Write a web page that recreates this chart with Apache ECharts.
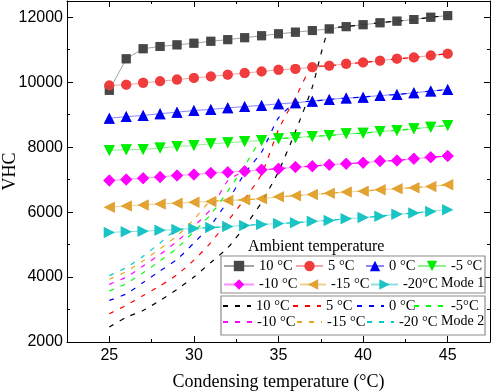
<!DOCTYPE html>
<html>
<head>
<meta charset="utf-8">
<script src="https://cdn.jsdelivr.net/npm/echarts@6/dist/echarts.min.js"></script>
<style>
  html, body { margin: 0; padding: 0; background: #fff; }
  #chart { width: 491px; height: 392px; }
</style>
</head>
<body>
<div id="chart"></div>
<script>
// condensing temperature (°C)
const condTemp = [25, 26, 27, 28, 29, 30, 31, 32, 33, 34, 35, 36, 37, 38, 39, 40, 41, 42, 43, 44, 45];

// Mode 1 VHC by ambient temperature
const m1_10  = [9750, 10720, 11030, 11100, 11150, 11200, 11260, 11310, 11370, 11430, 11490, 11540, 11590, 11640, 11710, 11770, 11830, 11880, 11930, 12000, 12050];
const m1_5   = [9900, 9920, 9980, 10030, 10080, 10130, 10175, 10230, 10280, 10330, 10380, 10410, 10460, 10505, 10565, 10605, 10660, 10720, 10760, 10820, 10875];
const m1_0   = [8890, 8940, 8975, 9030, 9075, 9130, 9160, 9210, 9250, 9285, 9335, 9365, 9415, 9470, 9510, 9540, 9590, 9620, 9675, 9725, 9775];
const m1_m5  = [7900, 7920, 7930, 7970, 8020, 8050, 8105, 8135, 8175, 8205, 8260, 8290, 8330, 8360, 8410, 8430, 8485, 8515, 8565, 8615, 8670];
const m1_m10 = [6975, 7005, 7045, 7080, 7130, 7160, 7200, 7230, 7260, 7305, 7335, 7385, 7415, 7460, 7490, 7520, 7570, 7590, 7645, 7690, 7725];
const m1_m15 = [6150, 6190, 6220, 6250, 6275, 6305, 6330, 6360, 6380, 6410, 6470, 6505, 6545, 6580, 6615, 6645, 6690, 6720, 6750, 6790, 6840];
const m1_m20 = [5375, 5395, 5410, 5440, 5465, 5495, 5525, 5555, 5590, 5620, 5645, 5675, 5715, 5745, 5795, 5830, 5875, 5930, 5970, 6020, 6075];

// Mode 2 VHC (rises, then runs along the Mode 1 curve)
const m2_10  = [2460, 2760, 2970, 3280, 3620, 4000, 4450, 4900, 5550, 6300, 7250, 8480, 9850, 11640, 11710, 11770, 11830, 11880, 11930, 12000, 12050];
const m2_5   = [2870, 3130, 3430, 3730, 4070, 4520, 5060, 5720, 6400, 7170, 8540, 9520, 10460, 10505, 10565, 10605, 10660, 10720, 10760, 10820, 10875];
const m2_0   = [3280, 3480, 3830, 4190, 4540, 5050, 5590, 6340, 7190, 7850, 8900, 9365, 9415, 9470, 9510, 9540, 9590, 9620, 9675, 9725, 9775];
const m2_m5  = [3570, 3800, 4130, 4500, 4890, 5400, 5930, 6640, 7430, 8205, 8260, 8290, 8330, 8360, 8410, 8430, 8485, 8515, 8565, 8615, 8670];
const m2_m10 = [3775, 4000, 4340, 4700, 5100, 5560, 6090, 6960, 7260, 7305, 7335, 7385, 7415, 7460, 7490, 7520, 7570, 7590, 7645, 7690, 7725];
const m2_m15 = [3930, 4170, 4500, 4870, 5270, 5770, 6330, 6360, 6380, 6410, 6470, 6505, 6545, 6580, 6615, 6645, 6690, 6720, 6750, 6790, 6840];
const m2_m20 = [4045, 4290, 4640, 5050, 5465, 5495, 5525, 5555, 5590, 5620, 5645, 5675, 5715, 5745, 5795, 5830, 5875, 5930, 5970, 6020, 6075];

// ticks
const xMajor = [25, 30, 35, 40, 45];
const xMinor = [27.5, 32.5, 37.5, 42.5];
const yMajor = [2000, 4000, 6000, 8000, 10000, 12000];
const yMinor = [3000, 5000, 7000, 9000, 11000];

const mode1 = [
  { name: 'm1_10',  label: '10 °C',  data: m1_10,  color: '#474747', line: '#a3a3a3', symbol: 'rect',     size: 9,  rotate: 0 },
  { name: 'm1_5',   label: '5 °C',   data: m1_5,   color: '#f03c3c', line: '#f5a3a3', symbol: 'circle',   size: 10, rotate: 0 },
  { name: 'm1_0',   label: '0 °C',   data: m1_0,   color: '#0000f0', line: '#8888ff', symbol: 'triangle', size: 11, rotate: 0 },
  { name: 'm1_-5',  label: '-5 °C',  data: m1_m5,  color: '#00ee00', line: '#8cf08c', symbol: 'triangle', size: 11, rotate: 180 },
  { name: 'm1_-10', label: '-10 °C', data: m1_m10, color: '#ff00ff', line: '#ff8cff', symbol: 'diamond',  size: 12, rotate: 0 },
  { name: 'm1_-15', label: '-15 °C', data: m1_m15, color: '#e2a332', line: '#f0d090', symbol: 'triangle', size: 11, rotate: 90 },
  { name: 'm1_-20', label: '-20°C',  data: m1_m20, color: '#1cc4c4', line: '#8ce0e0', symbol: 'triangle', size: 11, rotate: -90 }
];
const mode2 = [
  { name: 'm2_10',  label: '10 °C',  data: m2_10,  color: '#000000' },
  { name: 'm2_5',   label: '5 °C',   data: m2_5,   color: '#ff0000' },
  { name: 'm2_0',   label: '0 °C',   data: m2_0,   color: '#0000ff' },
  { name: 'm2_-5',  label: '-5°C',   data: m2_m5,  color: '#00ff00' },
  { name: 'm2_-10', label: '-10 °C', data: m2_m10, color: '#ff00ff' },
  { name: 'm2_-15', label: '-15 °C', data: m2_m15, color: '#e8a820' },
  { name: 'm2_-20', label: '-20 °C', data: m2_m20, color: '#00cccc' }
];

const labelOf = {};
mode1.concat(mode2).forEach(function (s) { labelOf[s.name] = s.label; });

const pairs = function (ys) { return condTemp.map(function (x, i) { return [x, ys[i]]; }); };

const series = [];
mode1.forEach(function (s) {
  series.push({
    name: s.name, type: 'line', z: 1, data: pairs(s.data),
    symbol: s.symbol, symbolSize: s.size, symbolRotate: s.rotate,
    itemStyle: { color: s.color },
    lineStyle: { color: s.line, width: 1 },
    emphasis: { disabled: true }
  });
});
mode2.forEach(function (s) {
  series.push({
    name: s.name, type: 'line', z: 2, data: pairs(s.data),
    symbol: 'none', smooth: 0.2,
    itemStyle: { color: s.color },
    lineStyle: { color: s.color, width: 1.2, type: [5, 7] },
    emphasis: { disabled: true }
  });
});
// markers on top of the dashed curves
mode1.forEach(function (s) {
  series.push({
    name: s.name + '_pts', type: 'scatter', z: 3, data: pairs(s.data),
    symbol: s.symbol, symbolSize: s.size, symbolRotate: s.rotate,
    itemStyle: { color: s.color },
    emphasis: { disabled: true }
  });
});

const legendFont = { fontFamily: 'Liberation Serif', fontSize: 14.5, color: '#000' };
// [series name, icon left, icon width, row centre]
const legendSlots = [
  ['m1_10', 223, 30, 265], ['m1_5', 295, 27, 265], ['m1_0', 365, 18, 265], ['m1_-5', 417, 28, 265],
  ['m1_-10', 223, 30, 283.5], ['m1_-15', 299, 26, 283.5], ['m1_-20', 370, 27, 283.5],
  ['m2_10', 222, 28, 305], ['m2_5', 292, 28, 305], ['m2_0', 356, 27, 305], ['m2_-5', 413, 32, 305],
  ['m2_-10', 222, 29, 321], ['m2_-15', 296, 25, 321], ['m2_-20', 366, 27, 321]
];
const legends = legendSlots.map(function (l) {
  const dashed = l[0].indexOf('m2_') === 0;
  return {
    data: [l[0]], left: l[1], top: l[3] - 6.5, itemWidth: l[2], itemHeight: 13,
    padding: 0, itemGap: 0, selectedMode: false, z: 8,
    itemStyle: dashed ? { opacity: 0 } : {},
    formatter: function (n) { return labelOf[n]; },
    textStyle: legendFont
  };
});

function xAxisDef(pos, ticks, len, line, labels) {
  return {
    type: 'value', position: pos, min: 22.5, max: 47.5, gridIndex: 0,
    splitLine: { show: false },
    axisLine: { show: line, onZero: false, lineStyle: { color: '#000', width: 1 } },
    axisTick: { show: true, inside: true, length: len, customValues: ticks, lineStyle: { color: '#000' } },
    axisLabel: labels ? { show: true, customValues: xMajor, margin: 6, fontFamily: 'Liberation Sans', fontSize: 16, color: '#000' } : { show: false }
  };
}
function yAxisDef(pos, ticks, len, line, labels) {
  return {
    type: 'value', position: pos, min: 2000, max: 12500, gridIndex: 0,
    splitLine: { show: false },
    axisLine: { show: line, onZero: false, lineStyle: { color: '#000', width: 1 } },
    axisTick: { show: true, inside: true, length: len, customValues: ticks, lineStyle: { color: '#000' } },
    axisLabel: labels ? {
      show: true, customValues: yMajor, margin: 4, fontFamily: 'Liberation Sans', fontSize: 16, color: '#000',
      formatter: function (v) { return String(v); }
    } : { show: false }
  };
}

const xMain = xAxisDef('bottom', xMajor, 6, true, true);
xMain.name = 'Condensing temperature (°C)';
xMain.nameLocation = 'middle';
xMain.nameGap = 31;
xMain.nameMoveOverlap = false;
xMain.nameTextStyle = { fontFamily: 'Liberation Serif', fontSize: 18, color: '#000' };
const yMain = yAxisDef('left', yMajor, 6, true, true);
yMain.name = 'VHC';
yMain.nameLocation = 'middle';
yMain.nameGap = 48;
yMain.nameMoveOverlap = false;
yMain.nameTextStyle = { fontFamily: 'Liberation Serif', fontSize: 18, color: '#000' };

const chart = echarts.init(document.getElementById('chart'));
chart.setOption({
  animation: false,
  backgroundColor: '#fff',
  grid: { left: 67, right: 1, top: 1, bottom: 50, containLabel: false, outerBoundsMode: 'none' },
  xAxis: [
    xMain,
    xAxisDef('bottom', xMinor, 3, false, false),
    xAxisDef('top', xMajor, 6, true, false),
    xAxisDef('top', xMinor, 3, false, false)
  ],
  yAxis: [
    yMain,
    yAxisDef('left', yMinor, 3, false, false),
    yAxisDef('right', yMajor, 6, true, false),
    yAxisDef('right', yMinor, 3, false, false)
  ],
  legend: legends,
  graphic: [
    { type: 'rect', z: 6, shape: { x: 221, y: 256, width: 264, height: 37 },
      style: { fill: '#fff', stroke: '#8c8c8c', lineWidth: 1.2 } },
    { type: 'rect', z: 6, shape: { x: 221, y: 296, width: 264, height: 39 },
      style: { fill: '#fff', stroke: '#8c8c8c', lineWidth: 1.2 } },
    { type: 'text', z: 8, x: 248, y: 247,
      style: { text: 'Ambient temperature', fill: '#000', font: '16px "Liberation Serif"', verticalAlign: 'middle' } },
    { type: 'text', z: 8, x: 441, y: 283.5,
      style: { text: 'Mode 1', fill: '#000', font: '14px "Liberation Serif"', verticalAlign: 'middle' } },
    { type: 'text', z: 8, x: 441, y: 321,
      style: { text: 'Mode 2', fill: '#000', font: '14px "Liberation Serif"', verticalAlign: 'middle' } }
  ],
  series: series
});
</script>
</body>
</html>
